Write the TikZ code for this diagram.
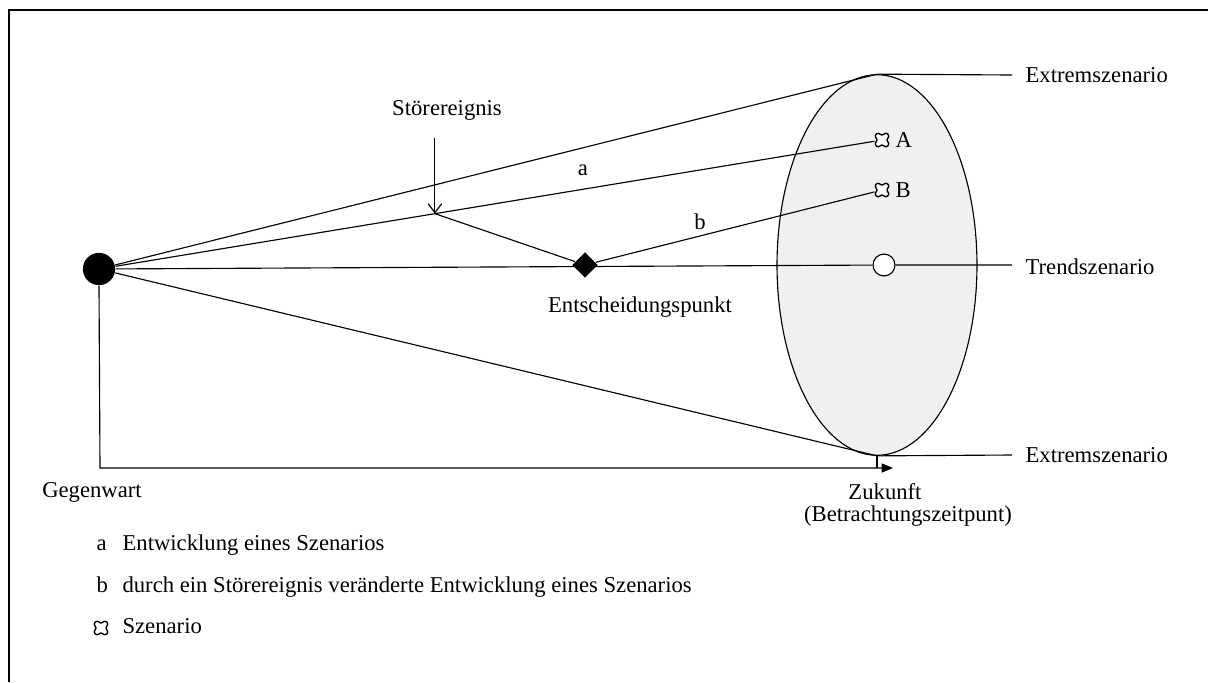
\documentclass[tikz,border=0pt]{standalone}
\usepackage{fontspec}
\setmainfont{Liberation Serif}
\usetikzlibrary{shapes.geometric, arrows.meta, calc}

\tikzset{
  szenpt/.style={circle, inner sep=0pt, minimum size=0.22cm},
  szen/.pic={\filldraw[fill=white, line width=0.6pt, rounded corners=1.1, rotate=45]
    (-2.8,8.2) -- (2.8,8.2) -- (2.8,2.8) -- (8.2,2.8) -- (8.2,-2.8) -- (2.8,-2.8) --
    (2.8,-8.2) -- (-2.8,-8.2) -- (-2.8,-2.8) -- (-8.2,-2.8) -- (-8.2,2.8) -- (-2.8,2.8) -- cycle;},
  txt/.style={inner sep=0pt}
}

\begin{document}
\begin{tikzpicture}[x=0.0155cm, y=-0.0155cm, line width=0.5pt]
  \useasboundingbox (0,0) rectangle (1208,682);
  \draw[line width=0.8pt] (9,682) -- (9,10) -- (1208,10);

  % Szenariotrichter
  \node[ellipse, draw, fill=gray!12, inner sep=0pt, minimum width=3.1cm, minimum height=5.9cm] (trichter) at (877,265) {};
  \node[circle, fill, inner sep=0pt, minimum size=0.5cm] (heute) at (99,269) {};
  \node[circle, draw, fill=white, inner sep=0pt, minimum size=0.34cm] (trend) at (884,265) {};
  \node[diamond, fill, inner sep=0pt, minimum width=0.4cm, minimum height=0.4cm] (entsch) at (585,265) {};
  \node[szenpt] (szA) at (882,140) {};
  \node[szenpt] (szB) at (882,190) {};

  \coordinate (eoTop) at (1012,75);
  \coordinate (eoTrend) at (1012,265);
  \coordinate (eoBot) at (1012,455);
  \coordinate (stoer) at ($(heute)!0.429!(szA)$);
  \coordinate (achse0) at (100,468);
  \coordinate (achse1) at (893,468);

  \draw (heute) -- (trichter.north) -- (eoTop);
  \draw (heute) -- (trichter.south) -- (eoBot);
  \draw (heute) -- (trend) -- (eoTrend);
  \draw (heute) -- (szA);
  \draw (stoer) -- (entsch) -- (szB);
  \draw[-{Straight Barb[length=4pt, width=6pt]}] ($(stoer)+(0,-76)$) -- (stoer);
  \pic at (szA) {szen};
  \pic at (szB) {szen};

  % Zeitachse
  \draw[-{Triangle[length=5pt, width=4pt]}] (heute.south) -- (achse0) -- (achse1);
  \draw[line width=0.8pt] (trichter.south) -- (trichter.south |- achse0);

  \node[txt, anchor=west] (extop) at (1025,75) {Extremszenario};
  \node[txt, anchor=west] (trendlbl) at (1025,267) {Trendszenario};
  \node[txt, anchor=west] (exbot) at (1025,455) {Extremszenario};
  \node[txt, right] (lblA) at (895,140) {A};
  \node[txt, right] (lblB) at (895,190) {B};
  \node[txt] (lbla) at (583,170) {a};
  \node[txt] (lblb) at (700,222) {b};
  \node[txt] (stoerlbl) at (447,110) {Störereignis};
  \node[txt] (entschlbl) at (640,307) {Entscheidungspunkt};
  \node[txt] (gegenwart) at (92,492) {Gegenwart};
  \node[txt] (zukunft) at (885,492) {Zukunft};
  \node[txt] (betr) at (908,516) {(Betrachtungszeitpunt)};

  % Legende
  \node[txt, anchor=base west] (lega) at (96,550) {a};
  \node[txt, anchor=base west] at (122,550) {Entwicklung eines Szenarios};
  \node[txt, anchor=base west] (legb) at (96,592) {b};
  \node[txt, anchor=base west] at (122,592) {durch ein Störereignis veränderte Entwicklung eines Szenarios};
  \pic at (101,628) {szen};
  \node[txt, anchor=base west] at (122,633) {Szenario};
\end{tikzpicture}
\end{document}
